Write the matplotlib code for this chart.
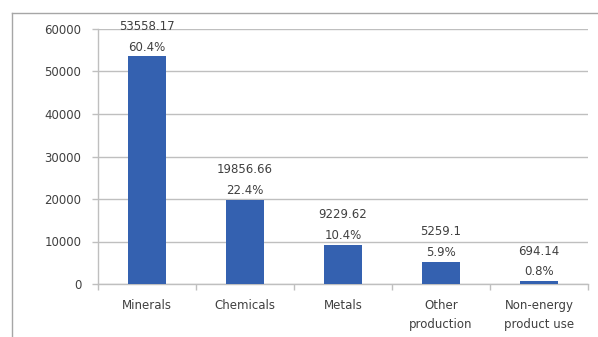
import numpy as np
import matplotlib.pyplot as plt
from matplotlib.lines import Line2D

# Data
categories = ['Minerals', 'Chemicals', 'Metals', 'Other\nproduction', 'Non-energy\nproduct use']
values = [53558.17, 19856.66, 9229.62, 5259.1, 694.14]
value_labels = ['53558.17', '19856.66', '9229.62', '5259.1', '694.14']
shares = ['60.4%', '22.4%', '10.4%', '5.9%', '0.8%']
yticks = [0, 10000, 20000, 30000, 40000, 50000, 60000]

text_color = '#404040'
grid_color = '#bfbfbf'

fig = plt.figure(figsize=(5.98, 3.37), dpi=100)
ax = fig.add_axes([98 / 598, (337 - 284) / 337, 490 / 598, 255 / 337])

x = np.arange(len(categories))
ax.bar(x, values, width=0.38, color='#3461b0', zorder=3)

# value + share labels above bars
for xi, v, lab, sh in zip(x, values, value_labels, shares):
    ax.annotate(lab + '\n' + sh, (xi, v), xytext=(0, 2), textcoords='offset points',
                ha='center', va='bottom', fontsize=8.5, color=text_color,
                linespacing=1.75, zorder=4)

ax.set_xlim(-0.5, len(categories) - 0.5)
ax.set_ylim(0, 60000)
ax.set_yticks(yticks)
ax.set_yticklabels([str(t) for t in yticks], fontsize=8.5, color=text_color)
ax.set_xticks(x)
ax.set_xticklabels(categories, fontsize=8.5, color=text_color, linespacing=1.6)
ax.set_xticks(np.arange(len(categories) + 1) - 0.5, minor=True)

ax.tick_params(axis='x', which='major', length=0, pad=11)
ax.tick_params(axis='x', which='minor', length=4, color=grid_color, width=1)
ax.tick_params(axis='y', length=4, color=grid_color, width=1, pad=8)

ax.grid(axis='y', color=grid_color, linewidth=1, zorder=0)
for s in ['top', 'right']:
    ax.spines[s].set_visible(False)
for s in ['left', 'bottom']:
    ax.spines[s].set_color(grid_color)
    ax.spines[s].set_linewidth(1)

# outer chart frame (partly cropped)
fig.add_artist(Line2D([12 / 598, 12 / 598], [0, 1 - 13 / 337], color='#a6a6a6', lw=1))
fig.add_artist(Line2D([12 / 598, 1], [1 - 13 / 337, 1 - 13 / 337], color='#a6a6a6', lw=1))

fig.savefig('out.png', dpi=100)
